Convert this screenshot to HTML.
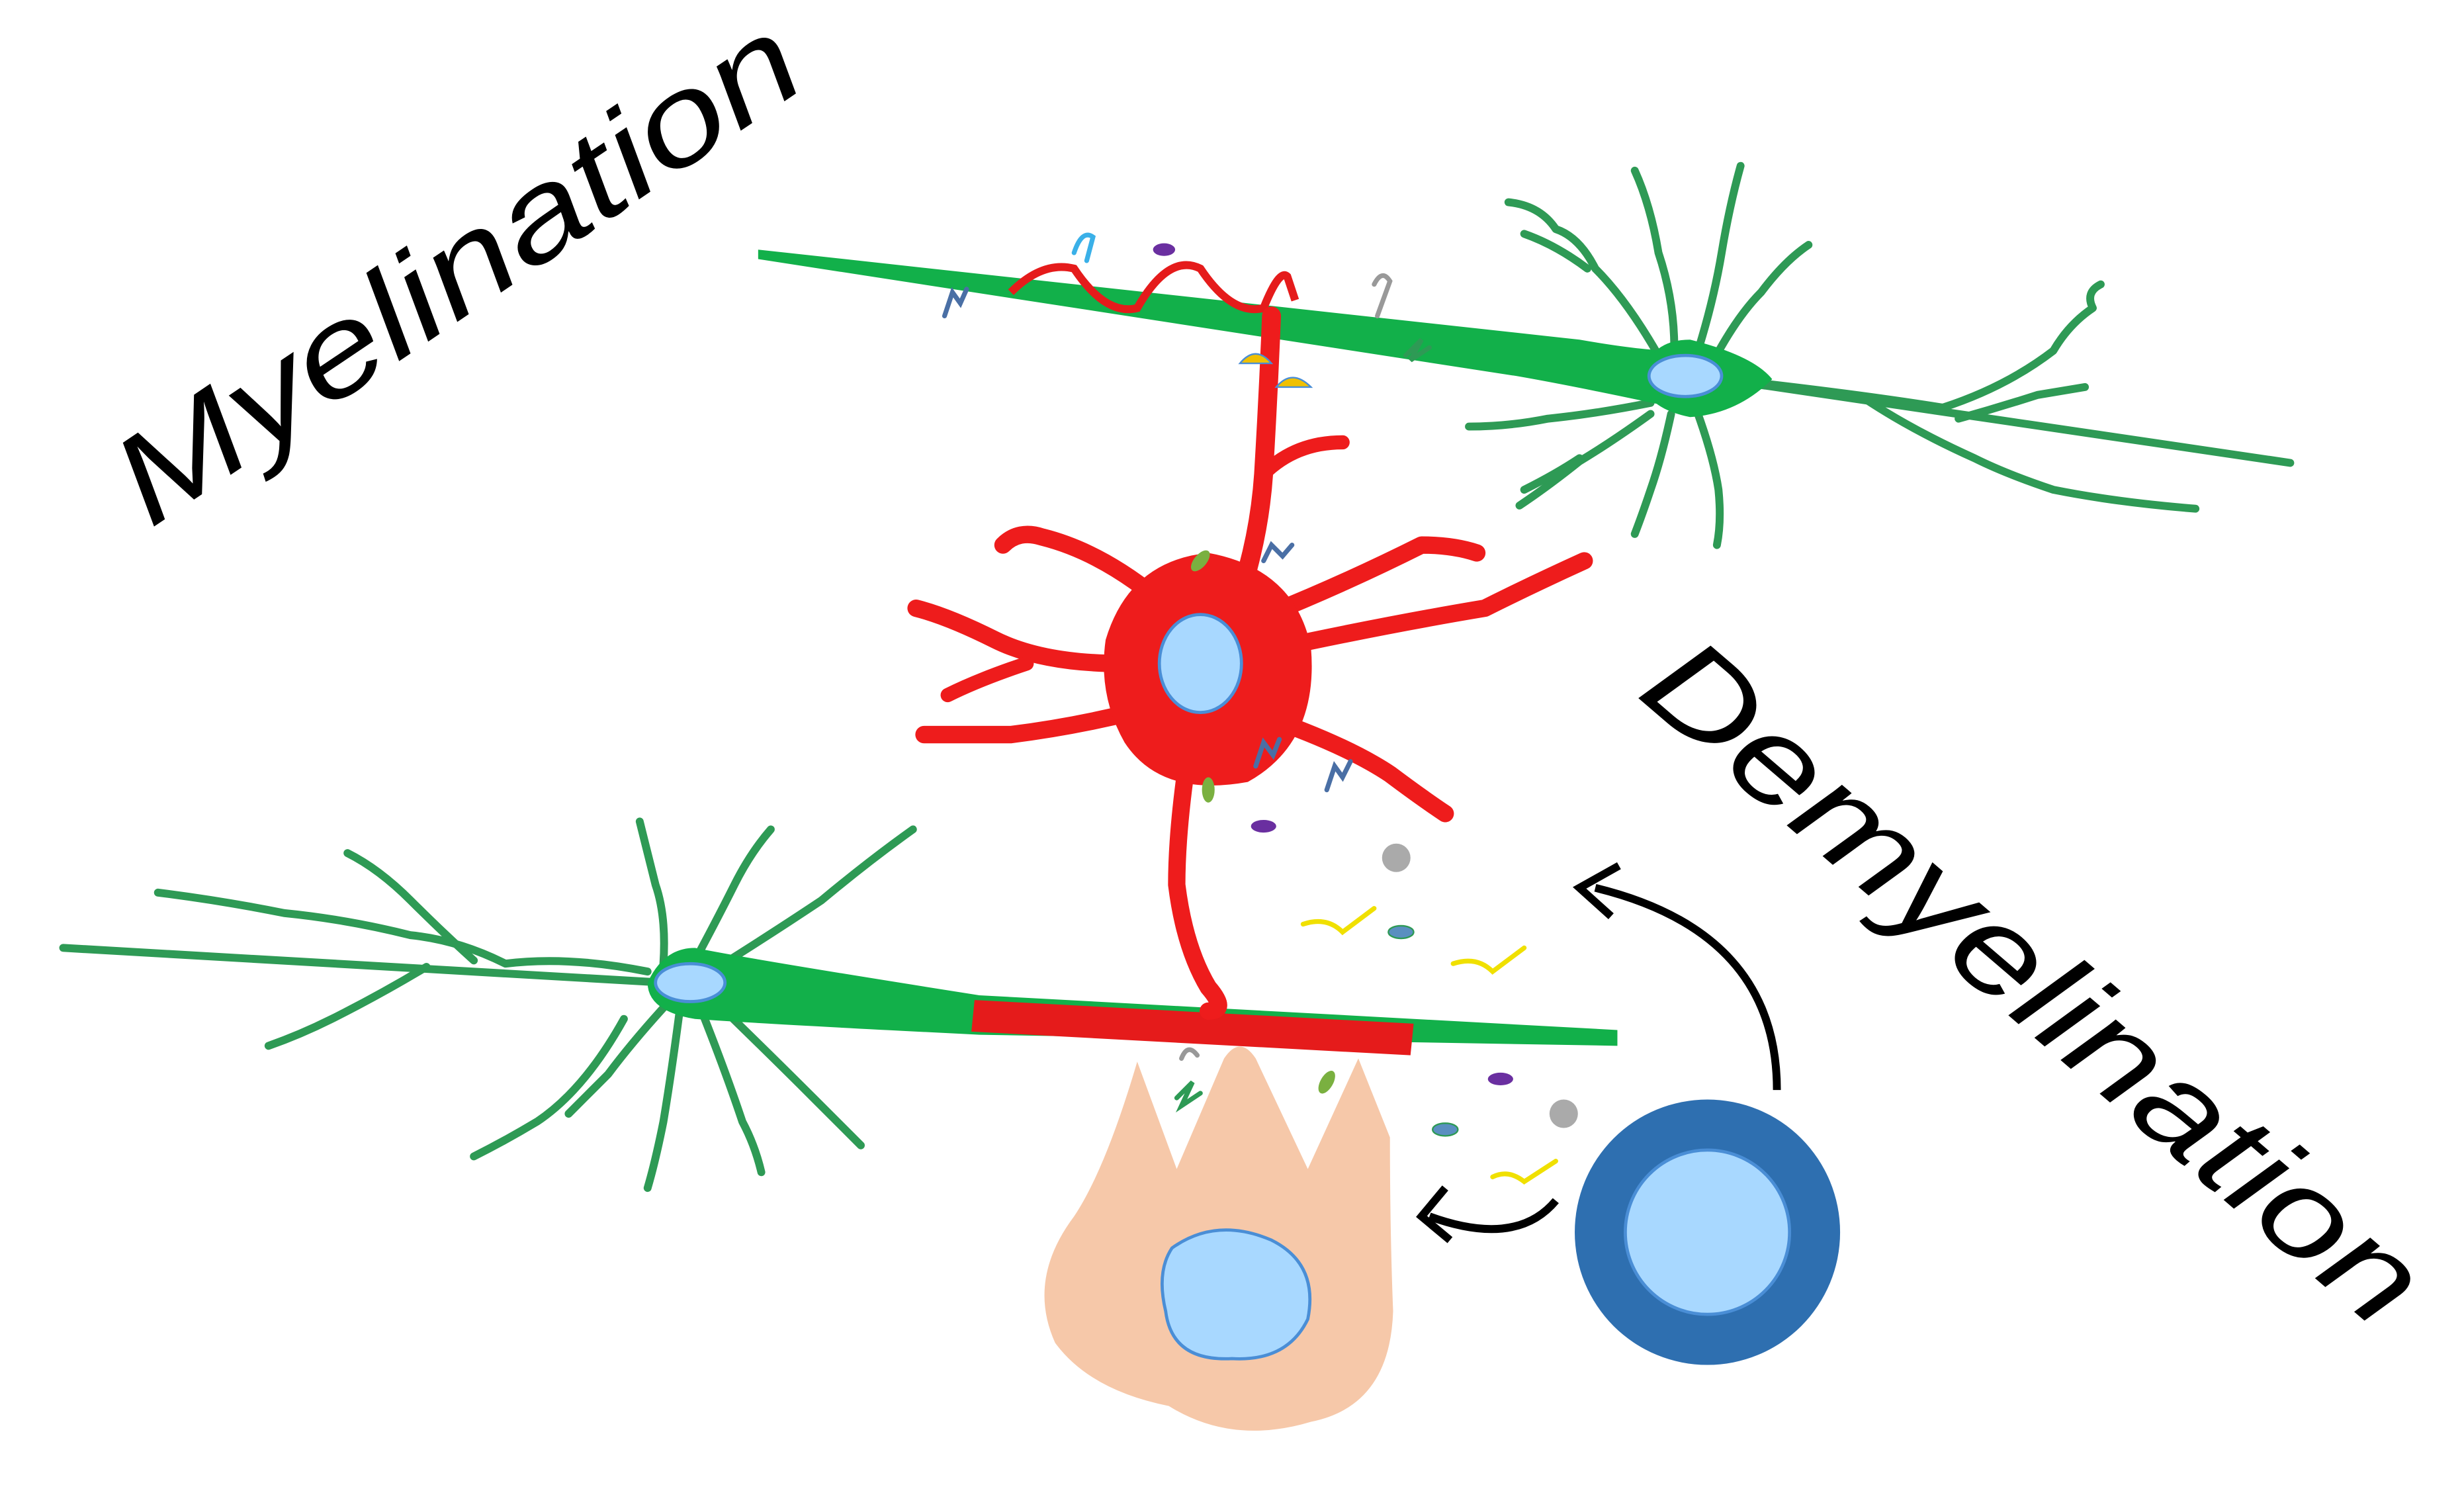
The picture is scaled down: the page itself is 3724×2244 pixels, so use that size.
<!DOCTYPE html>
<html><head><meta charset="utf-8"><style>
html,body{margin:0;padding:0;background:#fff;}
svg{display:block;}
</style></head><body>
<svg width="3724" height="2244" viewBox="0 0 1560 940" xmlns="http://www.w3.org/2000/svg">
<rect width="1560" height="940" fill="#fff"/>
<g fill="none" stroke="#2e9a55" stroke-width="5" stroke-linecap="round" stroke-linejoin="round">
<path d="M1090,240 L1450,293"/>
<path d="M1110,242 Q1180,250 1230,258 Q1270,245 1300,222 Q1310,205 1325,195 Q1320,185 1330,180"/>
<path d="M1180,252 Q1210,272 1250,290 Q1270,300 1300,310 Q1340,318 1390,322"/>
<path d="M1240,265 Q1265,258 1290,250 L1320,245"/>
<path d="M1050,225 Q1030,190 1010,170 Q1000,150 985,145 Q975,130 955,128"/>
<path d="M1005,170 Q985,155 965,148"/>
<path d="M1060,220 Q1060,190 1050,160 Q1045,130 1035,108"/>
<path d="M1075,222 Q1085,190 1090,160 Q1095,130 1102,105"/>
<path d="M1085,228 Q1100,200 1115,185 Q1130,165 1145,155"/>
<path d="M1045,255 Q1010,262 980,265 Q955,270 930,270"/>
<path d="M1045,262 Q1020,280 1000,292 Q980,308 962,320"/>
<path d="M1000,290 Q985,300 965,310"/>
<path d="M1058,262 Q1052,290 1045,310 Q1040,325 1035,338"/>
<path d="M1075,262 Q1085,290 1088,310 Q1090,330 1087,345"/>
</g>
<path d="M480,158 L1000,215 Q1040,222 1060,222 L1060,258 Q1000,245 960,238 L480,164 Z" fill="#12b04a"/>
<path d="M1040,238 Q1045,215 1070,215 Q1110,225 1122,240 Q1100,262 1070,264 Q1040,258 1040,238Z" fill="#12b04a"/>
<ellipse cx="1067" cy="238" rx="23" ry="13" fill="#a8d8ff" stroke="#4a8ed6" stroke-width="2"/>
<path d="M640,185 Q660,165 680,170 Q700,200 720,195 Q740,160 760,170 Q780,200 800,195 Q810,170 815,175 L820,190" fill="none" stroke="#e51b1b" stroke-width="5"/>
<g fill="none" stroke="#2e9a55" stroke-width="5" stroke-linecap="round" stroke-linejoin="round">
<path d="M40,600 L420,622"/>
<path d="M410,615 Q360,605 320,610 Q290,595 260,592 Q220,582 180,578 Q140,570 100,565"/>
<path d="M270,612 Q240,630 210,645 Q190,655 170,662"/>
<path d="M300,608 Q280,590 260,570 Q240,550 220,540"/>
<path d="M420,610 Q422,580 415,560 Q410,540 405,520"/>
<path d="M440,608 Q455,580 465,560 Q475,540 488,525"/>
<path d="M455,612 Q490,590 520,570 Q550,545 578,525"/>
<path d="M420,638 Q400,660 385,680 Q370,695 360,705"/>
<path d="M430,642 Q425,680 420,710 Q415,735 410,752"/>
<path d="M445,642 Q460,680 470,710 Q478,725 482,742"/>
<path d="M455,636 Q490,670 515,695 Q530,710 545,725"/>
<path d="M395,645 Q370,690 340,710 Q320,722 300,732"/>
</g>
<path d="M410,622 Q420,600 440,600 Q480,608 620,630 L1024,652 L1024,662 L620,655 Q480,648 440,645 Q410,640 410,622Z" fill="#12b04a"/>
<ellipse cx="437" cy="622" rx="22" ry="12" fill="#a8d8ff" stroke="#4a8ed6" stroke-width="2"/>
<path d="M617,633 L895,648 L893,668 L615,653Z" fill="#e51b1b"/>
<g fill="none" stroke="#ee1c1c" stroke-linecap="round" stroke-linejoin="round">
<path d="M805,200 Q803,250 800,300 Q798,330 790,360" stroke-width="12"/>
<path d="M800,300 Q820,280 850,280" stroke-width="9"/>
<path d="M740,385 Q700,350 660,340 Q645,335 635,345" stroke-width="11"/>
<path d="M710,420 Q660,420 630,405 Q600,390 580,385" stroke-width="11"/>
<path d="M650,420 Q620,430 600,440" stroke-width="9"/>
<path d="M720,450 Q680,460 640,465 Q610,465 585,465" stroke-width="11"/>
<path d="M800,390 Q850,370 900,345 Q920,345 935,350" stroke-width="11"/>
<path d="M810,410 Q880,395 940,385 Q970,370 1003,355" stroke-width="11"/>
<path d="M790,450 Q850,470 880,490 Q900,505 915,515" stroke-width="11"/>
<path d="M755,460 Q745,520 745,560 Q750,600 765,625 Q778,640 765,640" stroke-width="11"/>
</g>
<path d="M700,405 Q715,355 765,350 Q820,360 830,410 Q835,470 790,495 Q735,505 712,470 Q695,440 700,405Z" fill="#ee1c1c"/>
<ellipse cx="760" cy="420" rx="26" ry="31" fill="#a8d8ff" stroke="#4a8ed6" stroke-width="2"/>
<path d="M720,672 L745,740 L775,670 Q785,655 795,670 L828,740 L860,670 L880,720 Q880,780 882,830 Q880,890 830,900 Q780,915 740,890 Q690,880 668,850 Q650,810 680,770 Q700,740 720,672Z" fill="#f6c8a9"/>
<path d="M742,790 Q770,770 805,785 Q835,800 828,835 Q815,862 780,860 Q742,862 738,830 Q732,805 742,790Z" fill="#a8d8ff" stroke="#4a8ed6" stroke-width="2"/>
<circle cx="1081" cy="780" r="84" fill="#2e6fb0"/>
<circle cx="1081" cy="780" r="52" fill="#a8d8ff" stroke="#4a8ed6" stroke-width="2"/>
<path d="M1125,690 Q1125,590 1010,562" fill="none" stroke="#000" stroke-width="5"/>
<path d="M1025,548 L1000,562 L1020,580" fill="none" stroke="#000" stroke-width="5"/>
<path d="M985,760 Q960,790 905,770" fill="none" stroke="#000" stroke-width="5"/>
<path d="M915,752 L900,770 L918,785" fill="none" stroke="#000" stroke-width="5"/>
<circle cx="884" cy="543" r="9" fill="#aaa"/>
<circle cx="990" cy="705" r="9" fill="#aaa"/>
<g fill="none" stroke-width="3" stroke-linecap="round">
<path d="M825,585 Q840,580 850,590 L870,575" stroke="#f0e000"/>
<path d="M920,610 Q935,605 945,615 L965,600" stroke="#f0e000"/>
<path d="M945,745 Q955,740 965,748 L985,735" stroke="#f0e000"/>
<path d="M598,200 L603,185 L608,192 L612,183" stroke="#4a6fa5"/>
<path d="M800,355 L805,345 L812,352 L818,345" stroke="#4a6fa5"/>
<path d="M795,485 L800,470 L806,478 L810,468" stroke="#4a6fa5"/>
<path d="M840,500 L845,485 L850,492 L855,482" stroke="#4a6fa5"/>
<path d="M745,695 L755,685 L748,700 L760,692" stroke="#2e9a55"/>
<path d="M890,225 L900,215 L893,228 L905,220" stroke="#2e9a55"/>
<path d="M680,160 Q685,145 692,150 L688,165" stroke="#3ab0e8"/>
<path d="M870,180 Q875,170 880,178 L872,200" stroke="#999"/>
<path d="M748,670 Q752,660 758,668" stroke="#999"/>
</g>
<g>
<ellipse cx="737" cy="158" rx="7" ry="4" fill="#6a2fa0"/>
<ellipse cx="800" cy="523" rx="8" ry="4" fill="#6a2fa0"/>
<ellipse cx="950" cy="683" rx="8" ry="4" fill="#6a2fa0"/>
<ellipse cx="887" cy="590" rx="8" ry="4" fill="#5a8fc0" stroke="#2e9a55"/>
<ellipse cx="915" cy="715" rx="8" ry="4" fill="#5a8fc0" stroke="#2e9a55"/>
<ellipse cx="760" cy="355" rx="4" ry="8" fill="#7ab040" transform="rotate(40 760 355)"/>
<ellipse cx="765" cy="500" rx="4" ry="8" fill="#7ab040"/>
<ellipse cx="840" cy="685" rx="4" ry="8" fill="#7ab040" transform="rotate(30 840 685)"/>
<path d="M785,230 Q795,218 805,230Z" fill="#f0c000" stroke="#4a8ed6"/>
<path d="M808,245 Q818,233 830,245Z" fill="#f0c000" stroke="#4a8ed6"/>
</g>
<text x="0" y="0" transform="translate(95,335) rotate(-34)" font-family="Liberation Sans, sans-serif" font-style="italic" font-size="80" textLength="505" lengthAdjust="spacingAndGlyphs" fill="#000">Myelination</text>
<text x="0" y="0" transform="translate(1035,440) rotate(40.6)" font-family="Liberation Sans, sans-serif" font-style="italic" font-size="80" textLength="620" lengthAdjust="spacingAndGlyphs" fill="#000">Demyelination</text>
</svg>
</body></html>
